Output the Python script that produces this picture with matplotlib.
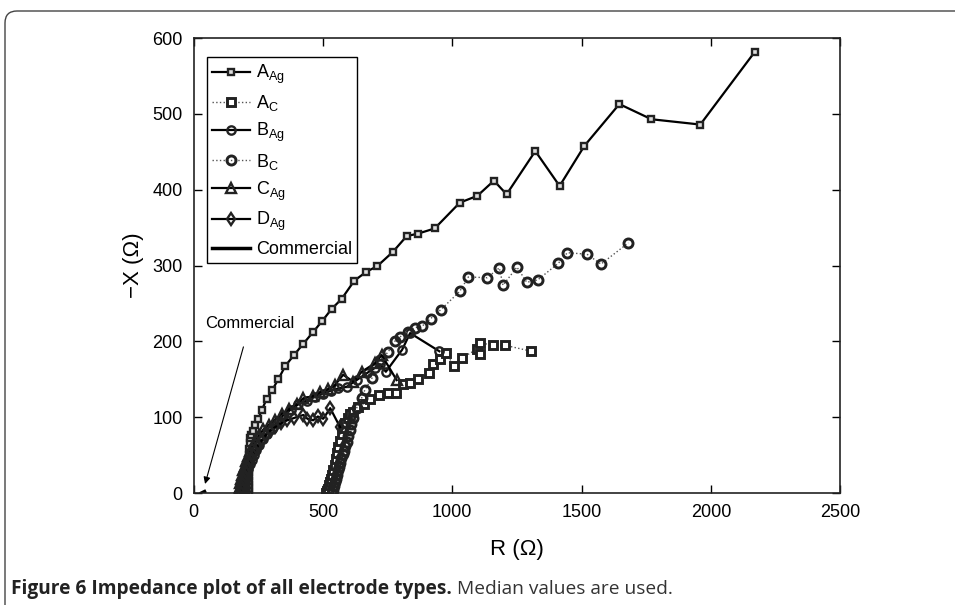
import numpy as np
import matplotlib
matplotlib.use("Agg")
import matplotlib.pyplot as plt
from matplotlib.patches import FancyBboxPatch

plt.rcParams['font.family'] = ['Liberation Sans', 'DejaVu Sans']
plt.rcParams['mathtext.default'] = 'regular'

# impedance data (R, -X in ohm)
a_ag_r = [212, 212, 212, 212, 213, 213, 214, 214, 215, 215, 216, 218, 222, 228, 238, 250, 264, 282,
          304, 327, 355, 388, 424, 461, 497, 534, 572, 621, 668, 709, 770, 824, 866, 932, 1029, 1097,
          1161, 1210, 1321, 1415, 1511, 1646, 1770, 1959, 2170]
a_ag_x = [0, 5, 10, 16, 22, 28, 35, 42, 50, 58, 66, 72, 77, 82, 90, 98, 110, 124,
          136, 150, 168, 182, 197, 212, 227, 243, 256, 280, 292, 299, 318, 339, 342, 349, 383, 392,
          412, 394, 451, 405, 458, 513, 493, 486, 582]

a_c_r = [512, 516, 520, 524, 528, 532, 536, 540, 545, 550, 555, 560, 566, 572, 578, 586, 595, 605,
         617, 636, 657, 683, 718, 751, 784, 810, 836, 868, 909, 927, 951, 977, 1005, 1036, 1097, 1106,
         1109, 1158, 1203, 1306]
a_c_x = [0, 3, 6, 10, 14, 19, 24, 30, 37, 45, 53, 61, 69, 78, 86, 93, 99, 104,
         107, 113, 118, 124, 130, 132, 132, 144, 145, 150, 158, 170, 177, 185, 168, 178, 190, 183,
         198, 195, 195, 187]

b_ag_r = [196, 197, 198, 200, 202, 206, 211, 217, 224, 232, 242, 254, 268, 284, 302, 322, 345, 375,
          405, 437, 470, 500, 530, 560, 591, 630, 669, 700, 720, 743, 806, 837, 950]
b_ag_x = [0, 4, 9, 14, 20, 26, 32, 38, 44, 50, 57, 64, 71, 78, 85, 93, 102, 110,
          117, 122, 127, 131, 135, 138, 140, 149, 158, 165, 170, 160, 189, 211, 187]

b_c_r = [535, 538, 541, 545, 549, 553, 557, 562, 566, 571, 576, 580, 585, 591, 597, 604, 610, 617,
         630, 649, 662, 690, 720, 752, 777, 798, 829, 854, 883, 916, 956, 1029, 1062, 1135, 1182,
         1196, 1250, 1288, 1330, 1410, 1445, 1521, 1575, 1681]
b_c_x = [0, 4, 9, 14, 19, 24, 30, 35, 40, 46, 51, 56, 62, 68, 75, 83, 91, 99,
         112, 125, 136, 152, 175, 186, 200, 206, 213, 218, 220, 230, 242, 266, 285, 284, 297,
         274, 298, 278, 281, 303, 317, 315, 302, 330]

c_ag_r = [174, 176, 178, 181, 184, 188, 192, 197, 203, 210, 218, 228, 240, 254, 270, 290, 315, 340,
          370, 400, 424, 463, 490, 520, 545, 578, 617, 650, 700, 727, 785]
c_ag_x = [0, 4, 8, 13, 18, 24, 30, 36, 42, 49, 56, 63, 70, 77, 84, 90, 97, 104,
          111, 118, 125, 128, 133, 137, 142, 156, 147, 160, 171, 182, 149]

d_ag_r = [184, 186, 188, 191, 194, 198, 202, 207, 213, 220, 228, 237, 248, 262, 278, 295, 315, 338,
          362, 388, 424, 440, 462, 480, 501, 528, 566]
d_ag_x = [0, 4, 8, 12, 17, 22, 27, 32, 38, 44, 50, 56, 62, 69, 76, 82, 87, 92,
          96, 99, 103, 98, 96, 101, 98, 112, 87]

com_r = [30, 33, 36, 39, 42]
com_x = [0, 0.5, 1, 1.5, 2]

fig = plt.figure(figsize=(9.55, 6.05), dpi=100)
ax = fig.add_axes([0.2028, 0.185, 0.677, 0.752])

lw = 1.6
ax.plot(a_ag_r, a_ag_x, '-s', color='k', lw=lw, ms=4.5, mfc='#dddddd', mec='#222222', mew=1.7, label='$A_{Ag}$')
ax.plot(a_c_r, a_c_x, ':s', color='#555555', lw=1.0, ms=6, mfc='white', mec='#222222', mew=2.1, label='$A_{C}$')
ax.plot(b_ag_r, b_ag_x, '-o', color='k', lw=lw, ms=6, mfc='none', mec='#222222', mew=1.7, label='$B_{Ag}$')
ax.plot(b_c_r, b_c_x, ':o', color='#555555', lw=1.0, ms=6.5, mfc='none', mec='#222222', mew=2.1, label='$B_{C}$')
ax.plot(c_ag_r, c_ag_x, '-^', color='k', lw=lw, ms=6.5, mfc='none', mec='#222222', mew=1.7, label='$C_{Ag}$')
ax.plot(d_ag_r, d_ag_x, '-d', color='k', lw=lw, ms=6.5, mfc='none', mec='#222222', mew=1.7, label='$D_{Ag}$')
ax.plot(com_r, com_x, '-', color='k', lw=2.5, label='Commercial')

ax.set_xlim(0, 2500)
ax.set_ylim(0, 600)
ax.set_xticks([0, 500, 1000, 1500, 2000, 2500])
ax.set_yticks([0, 100, 200, 300, 400, 500, 600])
ax.tick_params(direction='in', top=True, right=True, length=6, width=1, labelsize=13, pad=8)
for s in ax.spines.values():
    s.set_linewidth(1.2)
    s.set_color('#222222')

ax.set_xlabel('R (Ω)', fontsize=16, labelpad=13)
ax.set_ylabel('−X (Ω)', fontsize=16, labelpad=6)

ax.annotate('Commercial', xy=(44, 12), xytext=(218, 224), fontsize=12, ha='center', va='center',
            arrowprops=dict(arrowstyle='-|>', lw=0.8, color='k', shrinkA=10, shrinkB=0,
                            mutation_scale=10))

leg = ax.legend(loc='upper left', bbox_to_anchor=(0.0206, 0.958), borderaxespad=0, fontsize=13,
                handlelength=2.1, labelspacing=0.42, handletextpad=0.3, fancybox=False,
                edgecolor='k', framealpha=1, borderpad=0.3)
leg.get_frame().set_linewidth(1.0)

# caption
t1 = fig.text(0.011, 0.018, 'Figure 6 Impedance plot of all electrode types.', fontsize=13.8,
              fontweight='bold', family='Open Sans', color='#222222')
fig.canvas.draw()
bb = t1.get_window_extent()
fig.text((bb.x1 + 6) / fig.bbox.width, 0.018, 'Median values are used.', fontsize=13.8,
         family='Open Sans', color='#333333')

# rounded border of the figure panel
box = FancyBboxPatch((0.05, -0.3), 10.0, 6.24, boxstyle='round,pad=0,rounding_size=0.12',
                     transform=fig.dpi_scale_trans, fill=False, edgecolor='#444444', lw=1.0,
                     clip_on=False)
fig.add_artist(box)

fig.savefig('out.png', dpi=100)
